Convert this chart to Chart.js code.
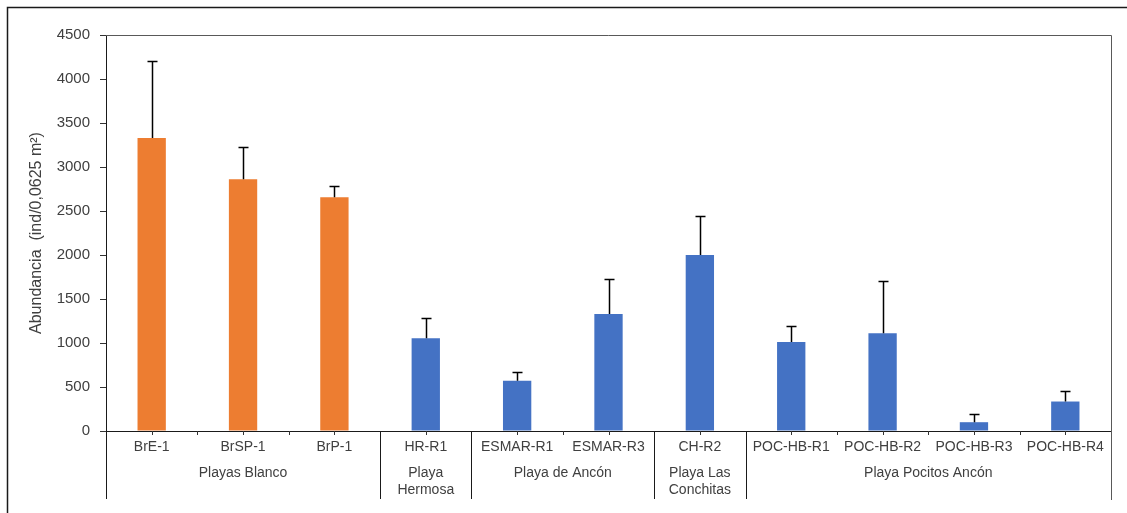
<!DOCTYPE html>
<html>
<head>
<meta charset="utf-8">
<script src="https://cdn.jsdelivr.net/npm/chart.js@4"></script>
<style>
  body { margin: 0; background: #fff; }
  canvas { display: block; }
</style>
</head>
<body>
<canvas id="abundanceChart" width="1127" height="513"></canvas>
<script>
// sampling stations, mean abundance and upper end of the error bar
const sites = ['BrE-1', 'BrSP-1', 'BrP-1', 'HR-R1', 'ESMAR-R1', 'ESMAR-R3', 'CH-R2', 'POC-HB-R1', 'POC-HB-R2', 'POC-HB-R3', 'POC-HB-R4'];
const abundance = [3330, 2860, 2655, 1055, 570, 1330, 2000, 1010, 1110, 100, 335];
const errorTop = [4200, 3230, 2780, 1285, 665, 1730, 2445, 1195, 1705, 190, 455];

// beaches grouping the stations (label lines, number of stations)
const beachNames = [['Playas Blanco'], ['Playa', 'Hermosa'], ['Playa de Ancón'], ['Playa Las', 'Conchitas'], ['Playa Pocitos Ancón']];
const beachSizes = [3, 1, 2, 1, 4];

const yTicks = [0, 500, 1000, 1500, 2000, 2500, 3000, 3500, 4000, 4500];
const yTitle = 'Abundancia  (ind/0,0625 m²)';

const ORANGE = '#ED7D31';
const BLUE = '#4472C4';
const TEXT = '#404040';
const FONT = '"Liberation Sans", Arial, sans-serif';

const barColors = sites.map((s, i) => i < beachSizes[0] ? ORANGE : BLUE);

const extras = {
  id: 'extras',
  afterDatasetsDraw(chart) {
    const { ctx, scales: { x, y } } = chart;
    ctx.save();
    ctx.strokeStyle = '#000';
    ctx.lineWidth = 1.5;
    errorTop.forEach((v, i) => {
      const px = Math.round(x.getPixelForValue(i)) + 0.5;
      const y0 = y.getPixelForValue(abundance[i]);
      const y1 = Math.round(y.getPixelForValue(v)) + 0.5;
      ctx.beginPath();
      ctx.moveTo(px, y0);
      ctx.lineTo(px, y1);
      ctx.moveTo(px - 5, y1);
      ctx.lineTo(px + 5, y1);
      ctx.stroke();
    });
    ctx.restore();
  },
  afterDraw(chart) {
    const { ctx, chartArea: a, scales: { x } } = chart;
    const lowY = 499;
    ctx.save();

    // outer frame (left and top edges)
    ctx.strokeStyle = '#1a1a1a';
    ctx.lineWidth = 1.5;
    ctx.beginPath();
    ctx.moveTo(7.5, 513);
    ctx.lineTo(7.5, 7.5);
    ctx.lineTo(1127, 7.5);
    ctx.stroke();

    // plot area top and right edge
    ctx.strokeStyle = '#595959';
    ctx.lineWidth = 1;
    ctx.beginPath();
    ctx.moveTo(a.left, a.top + 0.5);
    ctx.lineTo(a.right + 0.5, a.top + 0.5);
    ctx.lineTo(a.right + 0.5, lowY + 1);
    ctx.stroke();

    // small ticks under the axis at centers and boundaries
    ctx.strokeStyle = '#333';
    ctx.beginPath();
    for (let i = 0; i < sites.length; i++) {
      const c = Math.round(x.getPixelForValue(i)) + 0.5;
      ctx.moveTo(c, a.bottom);
      ctx.lineTo(c, a.bottom + 4);
      if (i > 0) {
        const b = Math.round(x.getPixelForValue(i - 0.5)) + 0.5;
        ctx.moveTo(b, a.bottom);
        ctx.lineTo(b, a.bottom + 4);
      }
    }
    ctx.stroke();

    // beach separators and labels
    ctx.strokeStyle = '#1a1a1a';
    ctx.fillStyle = TEXT;
    ctx.font = '14px ' + FONT;
    ctx.textAlign = 'center';
    ctx.textBaseline = 'middle';
    let start = 0;
    beachSizes.forEach((n, g) => {
      const left = x.getPixelForValue(start - 0.5);
      const right = x.getPixelForValue(start + n - 0.5);
      const lx = Math.round(left) + 0.5;
      ctx.beginPath();
      ctx.moveTo(lx, a.bottom);
      ctx.lineTo(lx, lowY);
      ctx.stroke();
      beachNames[g].forEach((line, k) => {
        ctx.fillText(line, (left + right) / 2, 473 + k * 17);
      });
      start += n;
    });

    // y axis title
    ctx.font = '16px ' + FONT;
    ctx.translate(37, (a.top + a.bottom) / 2);
    ctx.rotate(-Math.PI / 2);
    ctx.fillText(yTitle, 0, 0);
    ctx.restore();
  }
};

new Chart(document.getElementById('abundanceChart'), {
  type: 'bar',
  data: {
    labels: sites,
    datasets: [{
      data: abundance,
      backgroundColor: barColors,
      borderWidth: 0,
      barPercentage: 0.31,
      categoryPercentage: 1
    }]
  },
  options: {
    responsive: false,
    animation: false,
    devicePixelRatio: 1,
    layout: { padding: { left: 0, right: 16, top: 35, bottom: 0 } },
    plugins: {
      legend: { display: false },
      tooltip: { enabled: false }
    },
    scales: {
      x: {
        afterFit: (s) => { s.height = 82; },
        grid: { display: false, drawTicks: false, tickLength: 0 },
        border: { display: true, color: '#1a1a1a', width: 1 },
        ticks: {
          color: TEXT,
          padding: 8,
          maxRotation: 0,
          autoSkip: false,
          font: { family: FONT, size: 14 }
        }
      },
      y: {
        min: 0,
        max: 4500,
        afterFit: (s) => { s.width = 106; },
        afterBuildTicks: (s) => { s.ticks = yTicks.map(v => ({ value: v })); },
        grid: { drawOnChartArea: false, drawTicks: true, tickLength: 6, color: '#333' },
        border: { display: true, color: '#1a1a1a', width: 1 },
        ticks: {
          color: TEXT,
          padding: 10,
          callback: (v) => String(v),
          font: { family: FONT, size: 15 }
        }
      }
    }
  },
  plugins: [extras]
});
</script>
</body>
</html>
